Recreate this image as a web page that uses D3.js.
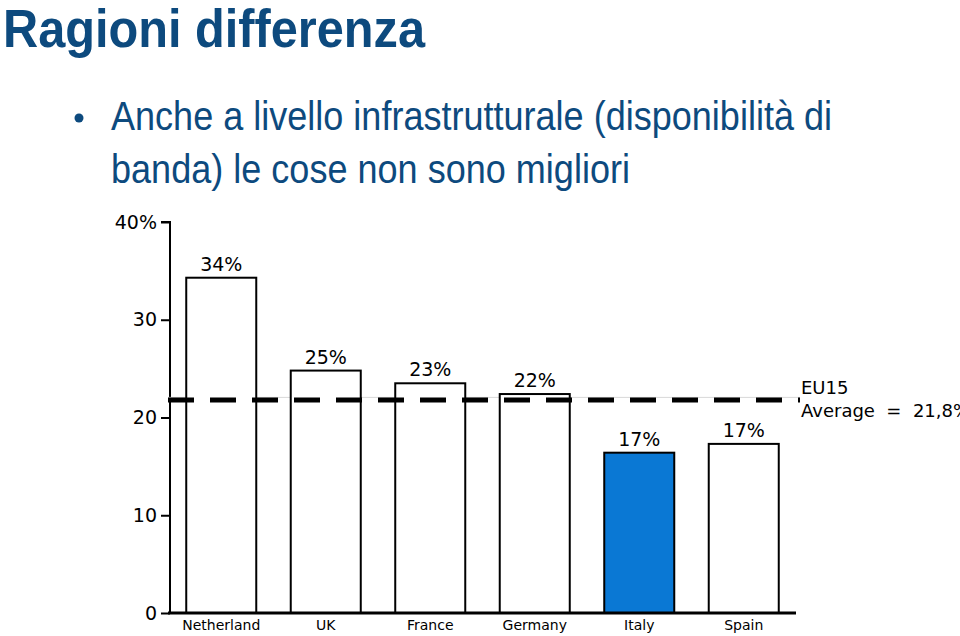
<!DOCTYPE html>
<html><head><meta charset="utf-8">
<script src="https://cdn.jsdelivr.net/npm/d3@7"></script>
<style>html,body{margin:0;padding:0;background:#fff;overflow:hidden}</style>
</head><body>
<script>
const categories = ["Netherland", "UK", "France", "Germany", "Italy", "Spain"];
const values = [34.3, 24.8, 23.5, 22.4, 16.4, 17.3];
const valueLabels = ["34%", "25%", "23%", "22%", "17%", "17%"];
const highlight = ["Italy"];
const yTicks = [0, 10, 20, 30, 40];
const yTickLabels = ["0", "10", "20", "30", "40%"];
const average = 21.8;
const averageLabel = ["EU15", "Average  =  21,8%"];
const title = "Ragioni differenza";
const bulletLines = ["Anche a livello infrastrutturale (disponibilità di", "banda) le cose non sono migliori"];

const W = 960, H = 636;
const svg = d3.select("body").append("svg").attr("width", W).attr("height", H)
  .style("font-family", "'DejaVu Sans', Verdana, sans-serif");

const navy = "#0d4a7e";
svg.append("text").attr("x", 3).attr("y", 47).text(title)
  .attr("font-family", "'Liberation Sans', Arial, sans-serif").attr("font-weight", "bold")
  .attr("font-size", 53).attr("fill", navy)
  .attr("textLength", 422).attr("lengthAdjust", "spacingAndGlyphs");

svg.append("circle").attr("cx", 79).attr("cy", 118).attr("r", 4.5).attr("fill", navy);
const bl = [[130, 721], [183, 519]];
bulletLines.forEach((t, i) => {
  svg.append("text").attr("x", 111).attr("y", bl[i][0]).text(t)
    .attr("font-family", "'Liberation Sans', Arial, sans-serif")
    .attr("font-size", 41).attr("fill", navy)
    .attr("textLength", bl[i][1]).attr("lengthAdjust", "spacingAndGlyphs");
});

const x = d3.scaleBand().domain(categories).range([169, 796]).paddingInner(0.33).paddingOuter(0.165);
const y = d3.scaleLinear().domain([0, 40]).range([613, 222]);

// y axis
const ya = svg.append("g").attr("transform", "translate(170,0)")
  .call(d3.axisLeft(y).tickValues(yTicks).tickSize(9).tickPadding(4)
    .tickFormat((d, i) => yTickLabels[i]));
ya.select(".domain").attr("stroke", "#000").attr("stroke-width", 2).attr("d", `M-9,${y(40)}H0V${y(0)}`);
ya.selectAll(".tick line").attr("stroke", "#000").attr("stroke-width", 2);
ya.selectAll(".tick text").attr("font-size", 19).attr("fill", "#000")
  .attr("font-family", "'DejaVu Sans', Verdana, sans-serif");

// light reference line
svg.append("line").attr("x1", 168).attr("x2", 800).attr("y1", y(average) - 2.5).attr("y2", y(average) - 2.5)
  .attr("stroke", "#d8d8d8").attr("stroke-width", 1);

// bars
svg.selectAll("rect.bar").data(categories).enter().append("rect")
  .attr("x", d => x(d)).attr("width", x.bandwidth())
  .attr("y", (d, i) => y(values[i])).attr("height", (d, i) => y(0) - y(values[i]))
  .attr("fill", d => highlight.includes(d) ? "#0a78d4" : "#fff")
  .attr("stroke", "#000").attr("stroke-width", 2);

// average dashed line
svg.append("line").attr("x1", 168).attr("x2", 800).attr("y1", y(average)).attr("y2", y(average))
  .attr("stroke", "#000").attr("stroke-width", 5).attr("stroke-dasharray", "26,16");

// value labels
svg.selectAll("text.val").data(categories).enter().append("text")
  .attr("x", d => x(d) + x.bandwidth() / 2).attr("y", (d, i) => y(values[i]) - 7)
  .attr("text-anchor", "middle").attr("font-size", 19).text((d, i) => valueLabels[i]);

// x axis
const xa = svg.append("g").attr("transform", "translate(0,613)")
  .call(d3.axisBottom(x).tickSize(0).tickPadding(7));
xa.select(".domain").attr("stroke", "#000").attr("stroke-width", 3).attr("d", "M168,0H796");
xa.selectAll(".tick text").attr("font-size", 14).attr("fill", "#000")
  .attr("font-family", "'DejaVu Sans', Verdana, sans-serif");

// average label
const al = svg.append("text").attr("x", 801).attr("font-size", 18).attr("xml:space", "preserve")
  .style("white-space", "pre");
al.append("tspan").attr("x", 801).attr("y", 394).text(averageLabel[0]);
al.append("tspan").attr("x", 801).attr("y", 417).text(averageLabel[1]);
</script>
</body></html>
